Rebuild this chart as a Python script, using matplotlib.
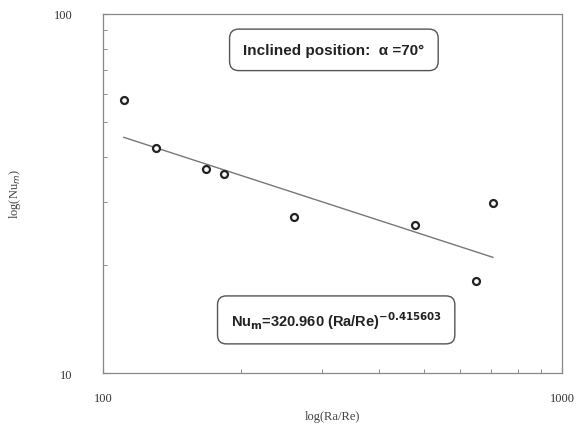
import numpy as np
import matplotlib
matplotlib.use('Agg')
import matplotlib.pyplot as plt
from matplotlib.ticker import NullFormatter

# Ra/Re and Nu_m
ra_re = [111, 130.5, 167.6, 183.5, 260.6, 478.6, 649, 707]
nu_m = [57.5, 42.4, 37.0, 35.8, 27.2, 25.8, 18.0, 29.7]
coef = 320.960
expo = -0.415603

fig = plt.figure(figsize=(5.81, 4.27), dpi=100)
ax = fig.add_axes([0.1773, 0.124, 0.79, 0.841])

xf = np.array([min(ra_re), max(ra_re)])
ax.plot(xf, coef * xf ** expo, color='#777777', lw=1.0)
ax.plot(ra_re, nu_m, 'o', ms=5, mfc='white', mec='#222222', mew=1.6, ls='none')

ax.set_xscale('log')
ax.set_yscale('log')
ax.set_xlim(100, 1000)
ax.set_ylim(10, 100)
ax.set_xticks([100, 1000])
ax.set_xticklabels(['100', '1000'])
ax.set_yticks([10, 100])
ax.set_yticklabels(['10', '100'])
ax.xaxis.set_minor_formatter(NullFormatter())
ax.yaxis.set_minor_formatter(NullFormatter())
ax.tick_params(which='both', direction='in', colors='#777777', labelcolor='#333333',
               labelsize=9, labelfontfamily='Liberation Serif')
ax.tick_params(which='minor', length=3)
ax.tick_params(axis='x', pad=14)
ax.tick_params(axis='y', pad=22)
for s in ax.spines.values():
    s.set_color('#888888')
    s.set_linewidth(0.9)

ax.set_xlabel('log(Ra/Re)', family='Liberation Serif', fontsize=9, color='#444444', labelpad=4)
ax.set_ylabel(r'log(Nu$_m$)', family='Liberation Serif', fontsize=9, color='#444444', labelpad=22)

box = dict(boxstyle='round,pad=0.9,rounding_size=0.6', fc='white', ec='#555555', lw=1.0)
ax.text(0.503, 0.90, 'Inclined position:  α =70°', transform=ax.transAxes, ha='center', va='center',
        family='Liberation Sans', weight='bold', fontsize=11, color='#222222', bbox=box)
ax.text(0.508, 0.148, r'Nu$_\mathbf{m}$=320.960 (Ra/Re)$^{\mathbf{-0.415603}}$', transform=ax.transAxes,
        ha='center', va='center', family='Liberation Sans', weight='bold', fontsize=10.5,
        color='#222222', bbox=box)

fig.savefig('out.png', dpi=100)
